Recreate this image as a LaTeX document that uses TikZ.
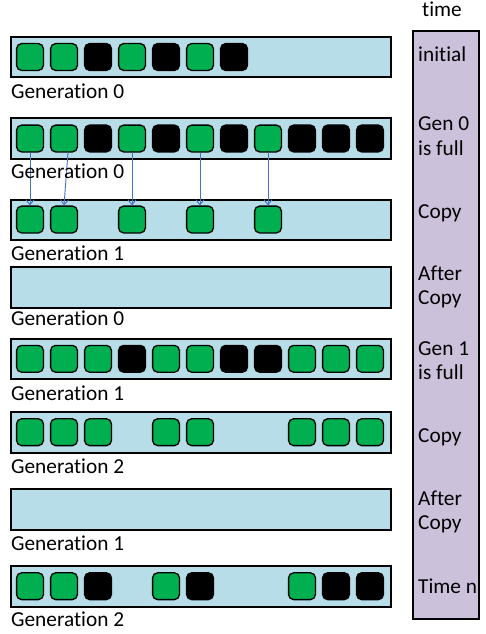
\documentclass[tikz,border=0pt]{standalone}
\usepackage{fontspec}
\setmainfont{Carlito}[Ligatures=NoCommon]
\usetikzlibrary{arrows.meta}
\definecolor{barblue}{HTML}{B7DDE8}
\definecolor{cellgreen}{HTML}{00B050}
\definecolor{timecol}{HTML}{CCC1DA}
\definecolor{arrowblue}{HTML}{4472C4}
\tikzset{
  bar/.style={draw=black, line width=2pt, fill=barblue, minimum width=380pt, minimum height=40.6pt, inner sep=0pt, anchor=west},
  cell/.style={draw=black, line width=1.3pt, rounded corners=5pt, minimum size=26.8pt, inner sep=0pt},
  lbl/.style={font=\fontsize{21.3}{25}\selectfont, anchor=base west, inner sep=0pt},
  copyarrow/.style={draw=arrowblue, line width=0.9pt, -{Straight Barb[length=5pt,width=8pt]}}
}
\begin{document}
\begin{tikzpicture}[x=1pt, y=-1pt]
\useasboundingbox (0,0) rectangle (486,634);
% time column
\node[draw=black, line width=2pt, fill=timecol, minimum width=66.6pt, minimum height=587.3pt, anchor=north west, inner sep=0pt] (tcol) at (411.7,30.5) {};
\node[lbl, anchor=base] (ttime) at (442,16.7) {time};
\node[lbl] (t1) at (418,61.7) {initial};
\node[lbl] (t2a) at (418,130) {Gen 0};
\node[lbl] (t2b) at (418,155) {is full};
\node[lbl] (t3) at (418,218) {Copy};
\node[lbl] (t4a) at (418,280) {After};
\node[lbl] (t4b) at (418,304.5) {Copy};
\node[lbl] (t5a) at (418,355) {Gen 1};
\node[lbl] (t5b) at (418,379) {is full};
\node[lbl] (t6) at (418,442) {Copy};
\node[lbl] (t7a) at (418,505) {After};
\node[lbl] (t7b) at (418,529) {Copy};
\node[lbl] (t8) at (418,593) {Time n};
% bars
\node[bar] (bar1) at (10,57) {};
\node[bar] (bar2) at (10,138.5) {};
\node[bar] (bar3) at (10,220) {};
\node[bar] (bar4) at (10,287.2) {};
\node[bar] (bar5) at (10,358.8) {};
\node[bar] (bar6) at (10,432.2) {};
\node[bar] (bar7) at (10,509.5) {};
\node[bar] (bar8) at (10,586.2) {};
% cells
\foreach \k/\c in {0/cellgreen,1/cellgreen,2/black,3/cellgreen,4/black,5/cellgreen,6/black}
  \node[cell, fill=\c] (b1s\k) at (30+34*\k,57) {};
\foreach \k/\c in {0/cellgreen,1/cellgreen,2/black,3/cellgreen,4/black,5/cellgreen,6/black,7/cellgreen,8/black,9/black,10/black}
  \node[cell, fill=\c] (b2s\k) at (30+34*\k,138.5) {};
\foreach \k/\c in {0/cellgreen,1/cellgreen,3/cellgreen,5/cellgreen,7/cellgreen}
  \node[cell, fill=\c] (b3s\k) at (30+34*\k,219.5) {};
\foreach \k/\c in {0/cellgreen,1/cellgreen,2/cellgreen,3/black,4/cellgreen,5/cellgreen,6/black,7/black,8/cellgreen,9/cellgreen,10/cellgreen}
  \node[cell, fill=\c] (b5s\k) at (30+34*\k,358.8) {};
\foreach \k/\c in {0/cellgreen,1/cellgreen,2/cellgreen,4/cellgreen,5/cellgreen,8/cellgreen,9/cellgreen,10/cellgreen}
  \node[cell, fill=\c] (b6s\k) at (30+34*\k,432.2) {};
\foreach \k/\c in {0/cellgreen,1/cellgreen,2/black,4/cellgreen,5/black,8/cellgreen,9/black,10/black}
  \node[cell, fill=\c] (b8s\k) at (30+34*\k,586.2) {};
% copy arrows
\draw[copyarrow] (b2s0.south) -- (b3s0.north);
\draw[copyarrow] ([xshift=4pt]b2s1.south) -- (b3s1.north);
\draw[copyarrow] (b2s3.south) -- (b3s3.north);
\draw[copyarrow] (b2s5.south) -- (b3s5.north);
\draw[copyarrow] (b2s7.south) -- (b3s7.north);
% labels
\node[lbl] (g1) at (11,98) {Generation 0};
\node[lbl] (g2) at (11,178) {Generation 0};
\node[lbl] (g3) at (11,260) {Generation 1};
\node[lbl] (g4) at (11,325) {Generation 0};
\node[lbl] (g5) at (11,400) {Generation 1};
\node[lbl] (g6) at (11,473) {Generation 2};
\node[lbl] (g7) at (11,550) {Generation 1};
\node[lbl] (g8) at (11,626.7) {Generation 2};
\end{tikzpicture}
\end{document}
